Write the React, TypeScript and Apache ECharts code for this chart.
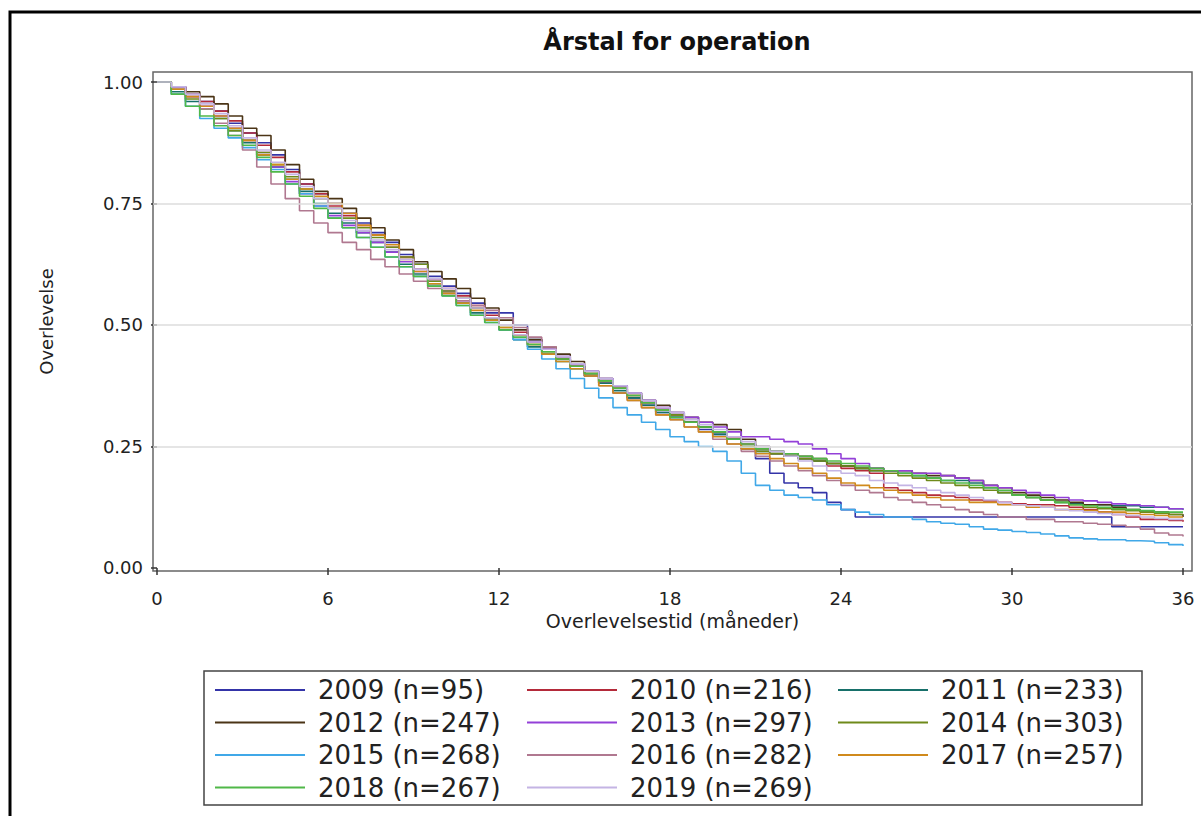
import React, { useEffect, useRef } from "react";
import * as echarts from "echarts";

const months = [
  0, 0.5, 1, 1.5, 2, 2.5, 3, 3.5, 4, 4.5, 5, 5.5, 6,
  6.5, 7, 7.5, 8, 8.5, 9, 9.5, 10, 10.5, 11, 11.5, 12,
  12.5, 13, 13.5, 14, 14.5, 15, 15.5, 16, 16.5, 17, 17.5, 18,
  18.5, 19, 19.5, 20, 20.5, 21, 21.5, 22, 22.5, 23, 23.5, 24,
  24.5, 25, 25.5, 26, 26.5, 27, 27.5, 28, 28.5, 29, 29.5, 30,
  30.5, 31, 31.5, 32, 32.5, 33, 33.5, 34, 34.5, 35, 35.5, 36,
];

const groupNames = [
  "2009 (n=95)", "2010 (n=216)", "2011 (n=233)", "2012 (n=247)", "2013 (n=297)",
  "2014 (n=303)", "2015 (n=268)", "2016 (n=282)", "2017 (n=257)", "2018 (n=267)", "2019 (n=269)",
];

const groupColors = [
  "#3434a8", "#b42a3a", "#17706a", "#4b3416", "#9340d8",
  "#6f8a1a", "#40a8e8", "#b07890", "#d08a1c", "#50b848", "#c4b4e4",
];

const s2009 = [
  1.00, 0.99, 0.975, 0.96, 0.94, 0.915, 0.895, 0.875, 0.85, 0.82, 0.79, 0.77, 0.75,
  0.73, 0.71, 0.69, 0.67, 0.645, 0.625, 0.60, 0.58, 0.565, 0.545, 0.525, 0.525,
  0.50, 0.47, 0.45, 0.43, 0.415, 0.395, 0.38, 0.36, 0.35, 0.335, 0.32, 0.31,
  0.30, 0.285, 0.275, 0.265, 0.245, 0.225, 0.195, 0.175, 0.165, 0.155, 0.135, 0.12,
  0.105, 0.105, 0.105, 0.105, 0.105, 0.105, 0.105, 0.105, 0.105, 0.105, 0.105, 0.105,
  0.105, 0.105, 0.105, 0.105, 0.105, 0.105, 0.085, 0.085, 0.085, 0.085, 0.085, 0.085,
];
const s2010 = [
  1.00, 0.99, 0.975, 0.96, 0.94, 0.92, 0.895, 0.87, 0.845, 0.815, 0.79, 0.77, 0.745,
  0.725, 0.705, 0.685, 0.66, 0.64, 0.615, 0.595, 0.575, 0.56, 0.54, 0.52, 0.50,
  0.485, 0.465, 0.45, 0.43, 0.415, 0.40, 0.38, 0.37, 0.355, 0.34, 0.33, 0.315,
  0.30, 0.29, 0.28, 0.27, 0.255, 0.245, 0.235, 0.23, 0.225, 0.22, 0.21, 0.205,
  0.20, 0.195, 0.165, 0.16, 0.155, 0.15, 0.148, 0.145, 0.14, 0.138, 0.135, 0.132,
  0.13, 0.13, 0.128, 0.125, 0.12, 0.115, 0.11, 0.105, 0.10, 0.10, 0.098, 0.095,
];
const s2011 = [
  1.00, 0.98, 0.96, 0.945, 0.925, 0.90, 0.875, 0.85, 0.825, 0.80, 0.775, 0.75, 0.73,
  0.71, 0.69, 0.67, 0.65, 0.625, 0.605, 0.585, 0.565, 0.545, 0.525, 0.51, 0.49,
  0.47, 0.455, 0.44, 0.425, 0.41, 0.395, 0.38, 0.365, 0.35, 0.335, 0.32, 0.31,
  0.30, 0.29, 0.275, 0.265, 0.25, 0.24, 0.235, 0.23, 0.225, 0.22, 0.215, 0.21,
  0.205, 0.20, 0.20, 0.195, 0.19, 0.185, 0.18, 0.18, 0.175, 0.165, 0.155, 0.15,
  0.145, 0.14, 0.135, 0.132, 0.13, 0.13, 0.128, 0.128, 0.125, 0.125, 0.122, 0.12,
];
const s2012 = [
  1.00, 0.99, 0.98, 0.97, 0.955, 0.93, 0.905, 0.89, 0.86, 0.83, 0.80, 0.775, 0.76,
  0.74, 0.72, 0.70, 0.675, 0.655, 0.63, 0.61, 0.595, 0.575, 0.555, 0.535, 0.51,
  0.49, 0.47, 0.455, 0.44, 0.425, 0.405, 0.39, 0.375, 0.36, 0.345, 0.335, 0.32,
  0.31, 0.30, 0.295, 0.285, 0.265, 0.25, 0.24, 0.235, 0.23, 0.225, 0.215, 0.21,
  0.205, 0.205, 0.20, 0.20, 0.195, 0.19, 0.19, 0.185, 0.18, 0.17, 0.165, 0.155,
  0.15, 0.145, 0.14, 0.135, 0.13, 0.13, 0.125, 0.12, 0.115, 0.115, 0.11, 0.105,
];
const s2013 = [
  1.00, 0.99, 0.97, 0.95, 0.93, 0.905, 0.88, 0.855, 0.825, 0.795, 0.77, 0.745, 0.725,
  0.705, 0.69, 0.67, 0.65, 0.63, 0.61, 0.59, 0.57, 0.55, 0.535, 0.515, 0.50,
  0.48, 0.465, 0.45, 0.435, 0.42, 0.405, 0.39, 0.375, 0.36, 0.345, 0.33, 0.32,
  0.31, 0.30, 0.29, 0.28, 0.27, 0.27, 0.265, 0.26, 0.255, 0.245, 0.235, 0.225,
  0.215, 0.205, 0.20, 0.20, 0.195, 0.195, 0.19, 0.185, 0.18, 0.17, 0.165, 0.16,
  0.155, 0.15, 0.145, 0.14, 0.138, 0.135, 0.132, 0.13, 0.128, 0.125, 0.122, 0.12,
];
const s2014 = [
  1.00, 0.985, 0.965, 0.945, 0.925, 0.90, 0.88, 0.855, 0.83, 0.805, 0.78, 0.76, 0.74,
  0.72, 0.70, 0.68, 0.66, 0.64, 0.625, 0.59, 0.57, 0.555, 0.535, 0.515, 0.495,
  0.48, 0.46, 0.445, 0.43, 0.415, 0.40, 0.385, 0.37, 0.355, 0.34, 0.325, 0.315,
  0.30, 0.29, 0.28, 0.265, 0.25, 0.24, 0.235, 0.23, 0.225, 0.22, 0.215, 0.21,
  0.205, 0.20, 0.195, 0.19, 0.185, 0.18, 0.175, 0.17, 0.165, 0.16, 0.155, 0.15,
  0.145, 0.14, 0.135, 0.13, 0.125, 0.122, 0.12, 0.118, 0.115, 0.112, 0.11, 0.11,
];
const s2015 = [
  1.00, 0.975, 0.95, 0.925, 0.905, 0.885, 0.865, 0.84, 0.82, 0.79, 0.77, 0.745, 0.72,
  0.70, 0.68, 0.66, 0.64, 0.62, 0.60, 0.58, 0.56, 0.54, 0.52, 0.505, 0.49,
  0.47, 0.45, 0.43, 0.41, 0.39, 0.37, 0.35, 0.33, 0.315, 0.30, 0.285, 0.27,
  0.26, 0.25, 0.24, 0.22, 0.195, 0.17, 0.16, 0.15, 0.145, 0.14, 0.13, 0.12,
  0.115, 0.11, 0.105, 0.105, 0.10, 0.095, 0.092, 0.09, 0.085, 0.08, 0.078, 0.075,
  0.073, 0.07, 0.066, 0.062, 0.06, 0.058, 0.058, 0.056, 0.055, 0.052, 0.048, 0.045,
];
const s2016 = [
  1.00, 0.985, 0.97, 0.945, 0.915, 0.89, 0.86, 0.825, 0.79, 0.76, 0.735, 0.71, 0.69,
  0.67, 0.655, 0.635, 0.62, 0.605, 0.59, 0.575, 0.565, 0.55, 0.54, 0.53, 0.515,
  0.495, 0.475, 0.455, 0.435, 0.415, 0.395, 0.375, 0.36, 0.345, 0.33, 0.315, 0.305,
  0.29, 0.28, 0.265, 0.255, 0.24, 0.23, 0.22, 0.21, 0.20, 0.19, 0.18, 0.17,
  0.16, 0.155, 0.145, 0.14, 0.135, 0.13, 0.125, 0.12, 0.115, 0.11, 0.105, 0.105,
  0.10, 0.10, 0.095, 0.095, 0.092, 0.09, 0.088, 0.085, 0.08, 0.072, 0.068, 0.065,
];
const s2017 = [
  1.00, 0.985, 0.97, 0.95, 0.93, 0.905, 0.88, 0.85, 0.83, 0.80, 0.78, 0.765, 0.75,
  0.73, 0.705, 0.685, 0.665, 0.635, 0.61, 0.585, 0.565, 0.545, 0.53, 0.51, 0.495,
  0.48, 0.46, 0.44, 0.425, 0.41, 0.395, 0.375, 0.36, 0.345, 0.33, 0.315, 0.305,
  0.29, 0.28, 0.27, 0.255, 0.245, 0.235, 0.225, 0.215, 0.205, 0.195, 0.185, 0.175,
  0.17, 0.165, 0.16, 0.155, 0.15, 0.145, 0.14, 0.14, 0.135, 0.135, 0.13, 0.13,
  0.125, 0.125, 0.12, 0.12, 0.118, 0.115, 0.115, 0.112, 0.11, 0.108, 0.105, 0.105,
];
const s2018 = [
  1.00, 0.975, 0.95, 0.93, 0.91, 0.89, 0.87, 0.845, 0.815, 0.79, 0.765, 0.74, 0.72,
  0.70, 0.68, 0.66, 0.64, 0.62, 0.60, 0.58, 0.56, 0.54, 0.52, 0.505, 0.49,
  0.475, 0.46, 0.445, 0.43, 0.415, 0.40, 0.385, 0.37, 0.355, 0.34, 0.325, 0.31,
  0.30, 0.29, 0.28, 0.265, 0.255, 0.245, 0.24, 0.235, 0.23, 0.225, 0.22, 0.215,
  0.21, 0.205, 0.20, 0.195, 0.19, 0.185, 0.18, 0.175, 0.17, 0.165, 0.16, 0.15,
  0.145, 0.14, 0.135, 0.13, 0.128, 0.125, 0.122, 0.12, 0.118, 0.115, 0.115, 0.115,
];
const s2019 = [
  1.00, 0.99, 0.975, 0.955, 0.935, 0.91, 0.885, 0.86, 0.835, 0.81, 0.785, 0.76, 0.74,
  0.715, 0.695, 0.675, 0.655, 0.635, 0.615, 0.595, 0.575, 0.555, 0.535, 0.515, 0.50,
  0.48, 0.465, 0.45, 0.435, 0.42, 0.405, 0.39, 0.375, 0.36, 0.345, 0.33, 0.32,
  0.305, 0.295, 0.285, 0.27, 0.26, 0.25, 0.24, 0.23, 0.22, 0.21, 0.20, 0.195,
  0.19, 0.18, 0.175, 0.17, 0.165, 0.16, 0.155, 0.15, 0.145, 0.14, 0.135, 0.13,
  0.128, 0.125, 0.12, 0.118, 0.115, 0.112, 0.11, 0.108, 0.105, 0.102, 0.10, 0.10,
];

const survivalValues = [s2009, s2010, s2011, s2012, s2013, s2014, s2015, s2016, s2017, s2018, s2019];

const legendColumns = [
  ["2009 (n=95)", "2012 (n=247)", "2015 (n=268)", "2018 (n=267)"],
  ["2010 (n=216)", "2013 (n=297)", "2016 (n=282)", "2019 (n=269)"],
  ["2011 (n=233)", "2014 (n=303)", "2017 (n=257)"],
];

const xTickValues = [0, 6, 12, 18, 24, 30, 36];
const yTickValues = [0, 0.25, 0.5, 0.75, 1];
const gridLevels = [0.25, 0.5, 0.75];

const FONT = "DejaVu Sans";
const legendLefts = [215, 527, 838];

export default function App() {
  const ref = useRef<HTMLDivElement>(null);

  useEffect(() => {
    const chart = echarts.init(ref.current as HTMLDivElement, null, { renderer: "svg" });

    const curves = survivalValues.map((vals, i) => ({
      type: "line",
      name: groupNames[i],
      data: months.map((m, j) => [m, vals[j]]),
      step: "end",
      symbol: "none",
      showSymbol: false,
      z: 3,
      color: groupColors[i],
      lineStyle: { width: 1.6, color: groupColors[i] },
      itemStyle: { color: groupColors[i] },
    }));

    const legends = legendColumns.map((col, k) => ({
      data: col,
      left: legendLefts[k],
      top: 676,
      orient: "vertical",
      icon: "rect",
      itemWidth: 90,
      itemHeight: 2,
      itemGap: 4.5,
      padding: 0,
      selectedMode: false,
      textStyle: { fontFamily: FONT, fontSize: 26, color: "#222", lineHeight: 28, padding: [0, 0, 0, 8] },
    }));

    chart.setOption({
      animation: false,
      backgroundColor: "#ffffff",
      title: {
        text: "Årstal for operation",
        left: 672,
        top: 25,
        textAlign: "center",
        textStyle: { fontFamily: FONT, fontSize: 24, fontWeight: "bold", color: "#111" },
      },
      graphic: [
        {
          type: "rect",
          silent: true,
          shape: { x: 10, y: 12, width: 1400, height: 1000 },
          style: { fill: "none", stroke: "#000", lineWidth: 3 },
        },
        {
          type: "rect",
          silent: true,
          z: -1,
          shape: { x: 204, y: 671, width: 938, height: 134 },
          style: { fill: "#fff", stroke: "#444", lineWidth: 1.5 },
        },
      ],
      grid: {
        left: 153,
        top: 72,
        right: 9,
        bottom: 245,
        show: true,
        borderColor: "#666",
        borderWidth: 1.5,
        backgroundColor: "transparent",
      },
      legend: legends,
      xAxis: {
        type: "value",
        min: -0.14,
        max: 36.316,
        name: "Overlevelsestid (måneder)",
        nameLocation: "middle",
        nameGap: 30,
        nameTextStyle: { fontFamily: FONT, fontSize: 19, color: "#222" },
        axisLine: { show: false },
        axisTick: { show: true, length: 7, customValues: xTickValues, lineStyle: { color: "#333", width: 1.5 } },
        axisLabel: { customValues: xTickValues, margin: 18, fontFamily: FONT, fontSize: 18, color: "#222" },
        splitLine: { show: false },
      },
      yAxis: {
        type: "value",
        min: -0.0062,
        max: 1.0206,
        name: "Overlevelse",
        nameLocation: "middle",
        nameGap: 98,
        nameTextStyle: { fontFamily: FONT, fontSize: 18, color: "#222" },
        axisLine: { show: false },
        axisTick: { show: true, length: 6, customValues: yTickValues, lineStyle: { color: "#333", width: 1.5 } },
        axisLabel: {
          customValues: yTickValues,
          margin: 10,
          fontFamily: FONT,
          fontSize: 18,
          color: "#222",
          formatter: (v: number) => v.toFixed(2),
        },
        splitLine: { show: false },
      },
      series: [
        {
          type: "line",
          data: [],
          silent: true,
          z: 1,
          markLine: {
            silent: true,
            symbol: "none",
            label: { show: false },
            lineStyle: { color: "#dcdcdc", type: "solid", width: 1.5 },
            data: gridLevels.map((v) => ({ yAxis: v })),
          },
        },
        ...curves,
      ],
    });

    return () => chart.dispose();
  }, []);

  return <div ref={ref} style={{ position: "fixed", left: 0, top: 0, width: 1201, height: 816 }} />;
}
